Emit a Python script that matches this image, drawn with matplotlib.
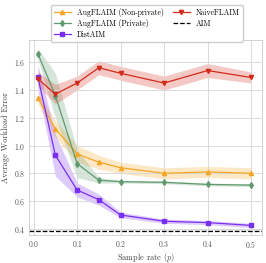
import matplotlib.pyplot as plt

plt.rcParams["font.family"] = "serif"
plt.rcParams["font.serif"] = ["cmr10"]
plt.rcParams["mathtext.fontset"] = "cm"
plt.rcParams["axes.formatter.use_mathtext"] = True

p = [0.01, 0.05, 0.1, 0.15, 0.2, 0.3, 0.4, 0.5]

naive = [1.48, 1.37, 1.45, 1.56, 1.52, 1.45, 1.54, 1.49]
naive_err = [0.05, 0.07, 0.05, 0.05, 0.05, 0.05, 0.05, 0.04]
aug_np = [1.34, 1.12, 0.94, 0.88, 0.84, 0.80, 0.81, 0.80]
aug_np_err = [0.04, 0.06, 0.06, 0.05, 0.04, 0.04, 0.04, 0.04]
aug_p = [1.66, 1.36, 0.87, 0.75, 0.74, 0.735, 0.72, 0.715]
aug_p_err = [0.04, 0.16, 0.10, 0.02, 0.01, 0.01, 0.01, 0.01]
dist = [1.49, 0.93, 0.68, 0.61, 0.50, 0.455, 0.445, 0.425]
dist_err = [0.09, 0.15, 0.05, 0.04, 0.02, 0.015, 0.015, 0.015]
aim = 0.385

fig, ax = plt.subplots(figsize=(2.66, 2.63), dpi=100)

series = [
    ("AugFLAIM (Non-private)", aug_np, aug_np_err, "#f5a623", "^"),
    ("AugFLAIM (Private)", aug_p, aug_p_err, "#5f9a6e", "d"),
    ("DistAIM", dist, dist_err, "#7a2ff0", "s"),
    ("NaiveFLAIM", naive, naive_err, "#d42a1a", "v"),
]
for name, y, e, c, m in series:
    ax.plot(p, y, color=c, marker=m, markersize=3, linewidth=0.9, label=name)
    ax.fill_between(p, [a - b for a, b in zip(y, e)], [a + b for a, b in zip(y, e)],
                    color=c, alpha=0.25, linewidth=0)
ax.axhline(aim, color="black", linestyle="--", linewidth=0.9, label="AIM")
ax.axhspan(aim - 0.003, aim + 0.008, color="#999999", alpha=0.25, linewidth=0)

ax.set_xlim(-0.01, 0.525)
ax.set_ylim(0.355, 1.76)
ax.set_xticks([0.0, 0.1, 0.2, 0.3, 0.4, 0.5])
ax.set_yticks([0.4, 0.6, 0.8, 1.0, 1.2, 1.4, 1.6])
ax.grid(True, color="#d5d5d5", linewidth=0.6)
for s in ax.spines.values():
    s.set_color("#cccccc")
    s.set_linewidth(0.6)
ax.tick_params(labelsize=5.5, colors="#555555", length=0, pad=2.5)
ax.set_xlabel("Sample rate ($p$)", fontsize=6, color="#444444", labelpad=1)
ax.set_ylabel("Average Workload Error", fontsize=6, color="#444444", labelpad=3)

ax.legend(ncol=2, fontsize=5.5,
          loc="upper center", bbox_to_anchor=(0.505, 1.2), framealpha=1,
          edgecolor="#cccccc", handlelength=2.2, columnspacing=1.2,
          labelspacing=0.3, borderpad=0.4)

fig.subplots_adjust(left=0.11, right=0.985, top=0.848, bottom=0.106)
fig.savefig("out.png", dpi=100)
